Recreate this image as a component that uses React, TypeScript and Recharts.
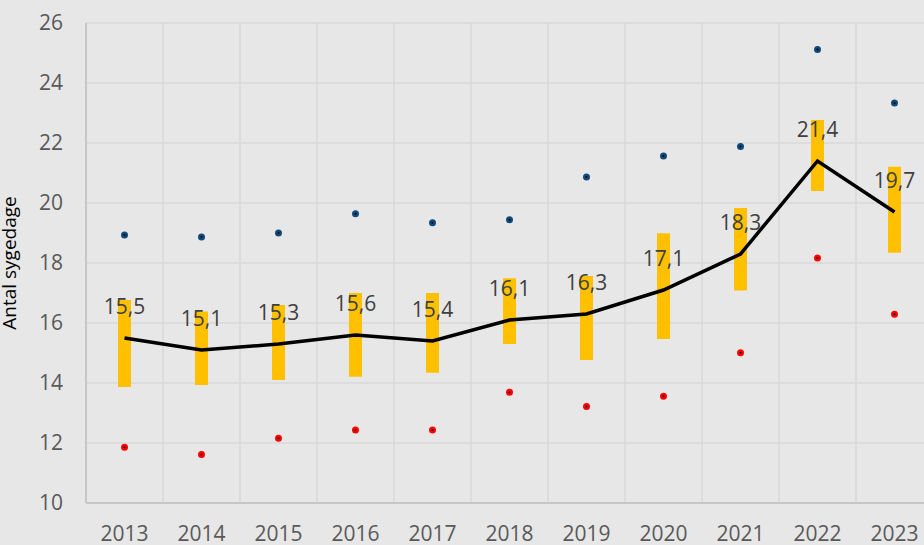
import React from 'react';
import {
  ComposedChart,
  Bar,
  Line,
  XAxis,
  YAxis,
  CartesianGrid,
  LabelList,
} from 'recharts';

const years = ['2013', '2014', '2015', '2016', '2017', '2018', '2019', '2020', '2021', '2022', '2023'];
const mean = [15.5, 15.1, 15.3, 15.6, 15.4, 16.1, 16.3, 17.1, 18.3, 21.4, 19.7];
const rangeLow = [13.87, 13.93, 14.1, 14.21, 14.34, 15.3, 14.77, 15.47, 17.08, 20.4, 18.34];
const rangeHigh = [16.77, 16.38, 16.6, 17.0, 17.0, 17.49, 17.57, 18.99, 19.83, 22.77, 21.21];
const maxValues = [18.93, 18.87, 19.0, 19.64, 19.34, 19.44, 20.87, 21.57, 21.88, 25.12, 23.33];
const minValues = [11.86, 11.62, 12.16, 12.43, 12.43, 13.69, 13.22, 13.56, 15.01, 18.17, 16.29];
const yTicks = [10, 12, 14, 16, 18, 20, 22, 24, 26];

const data = years.map((year, i) => ({
  year,
  mean: mean[i],
  range: [rangeLow[i], rangeHigh[i]],
  max: maxValues[i],
  min: minValues[i],
}));

const FONT = '"Open Sans", sans-serif';

const makeDot = (color: string) => (props: any) => {
  const { cx, cy, index } = props;
  if (cx == null || cy == null) return <g key={index} />;
  return (
    <g key={index}>
      <circle cx={cx} cy={cy} r={3.5} fill={color} />
      <circle cx={cx} cy={cy} r={1} fill="#000" />
    </g>
  );
};

const fmt = (v: any) => Number(v).toFixed(1).replace('.', ',');

export default function App() {
  return (
    <div
      style={{
        position: 'absolute',
        left: 0,
        top: 0,
        width: 924,
        height: 545,
        overflow: 'hidden',
        background: '#e7e7e7',
        fontFamily: FONT,
      }}
    >
      <ComposedChart
        width={940}
        height={545}
        data={data}
        margin={{ top: 23, right: 7, bottom: 0, left: 0 }}
      >
        <CartesianGrid
          stroke="#d9d9d9"
          strokeWidth={1.5}
          verticalCoordinatesGenerator={({ offset }: any) =>
            years.map((_, i) => offset.left + (i * offset.width) / years.length)
          }
        />
        <XAxis
          dataKey="year"
          height={42}
          tickLine={false}
          tickSize={0}
          tickMargin={23}
          axisLine={{ stroke: '#bfbfbf', strokeWidth: 1.5 }}
          tick={{ fill: '#595959', fontSize: 21, fontFamily: FONT }}
          interval={0}
        />
        <YAxis
          width={86}
          domain={[10, 26]}
          ticks={yTicks}
          tickLine={false}
          tickSize={0}
          tickMargin={23}
          axisLine={{ stroke: '#bfbfbf', strokeWidth: 1.5 }}
          tick={{ fill: '#595959', fontSize: 21, fontFamily: FONT }}
          label={{
            value: 'Antal sygedage',
            angle: -90,
            position: 'insideLeft',
            offset: 9,
            style: { fill: '#000', fontSize: 19, fontFamily: FONT, textAnchor: 'middle' },
          }}
        />
        <Bar dataKey="range" fill="#ffc000" barSize={13} isAnimationActive={false} />
        <Line
          dataKey="mean"
          stroke="#000"
          strokeWidth={3.5}
          dot={false}
          activeDot={false}
          isAnimationActive={false}
        >
          <LabelList
            dataKey="mean"
            position="top"
            offset={24}
            formatter={fmt}
            style={{ fill: '#404040', fontSize: 21, fontFamily: FONT }}
          />
        </Line>
        <Line
          dataKey="max"
          stroke="none"
          strokeWidth={0}
          dot={makeDot('#0f4a7a')}
          activeDot={false}
          isAnimationActive={false}
        />
        <Line
          dataKey="min"
          stroke="none"
          strokeWidth={0}
          dot={makeDot('#ff0000')}
          activeDot={false}
          isAnimationActive={false}
        />
      </ComposedChart>
    </div>
  );
}
